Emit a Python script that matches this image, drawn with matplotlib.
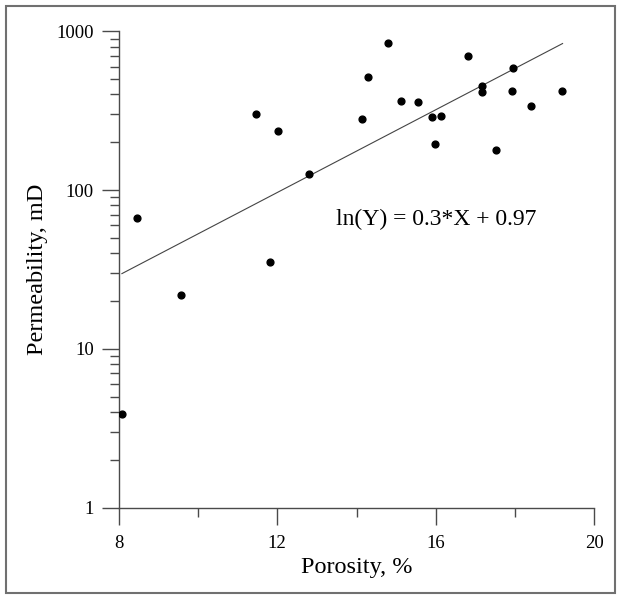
import numpy as np
import matplotlib.pyplot as plt
from matplotlib.ticker import FixedLocator, LogLocator, NullFormatter
from matplotlib.patches import Rectangle

plt.rcParams['font.family'] = ['Liberation Serif', 'DejaVu Serif']

# porosity (%) and permeability (mD)
porosity = [8.08, 8.47, 9.57, 11.47, 11.81, 12.02, 12.79, 14.15, 14.29, 14.80,
            15.13, 15.55, 15.91, 15.97, 16.13, 16.82, 17.16, 17.16, 17.53,
            17.93, 17.95, 18.40, 19.19]
permeability = [3.9, 67, 22, 301, 35, 237, 126, 280, 513, 848,
                365, 360, 290, 195, 294, 699, 452, 413, 180,
                423, 585, 340, 423]

# fit ln(Y) = a*X + b
fit_a = 0.3
fit_b = 0.97
fit_x = [8.08, 19.2]

grey = '#4a4a4a'

fig = plt.figure(figsize=(6.2, 5.98), dpi=100)
ax = fig.add_axes([0.1915, 0.151, 0.767, 0.7967])

xx = np.linspace(fit_x[0], fit_x[1], 50)
ax.plot(xx, np.exp(fit_a * xx + fit_b), color='#444444', lw=0.8)
ax.scatter(porosity, permeability, s=24, color='black', zorder=3)

ax.set_yscale('log')
ax.set_xlim(8, 20)
ax.set_ylim(1, 1000)

ax.xaxis.set_major_locator(FixedLocator([8, 12, 16, 20]))
ax.xaxis.set_minor_locator(FixedLocator([10, 14, 18]))
ax.yaxis.set_major_locator(FixedLocator([1, 10, 100, 1000]))
ax.yaxis.set_minor_locator(LogLocator(base=10, subs=np.arange(2, 10)))
ax.yaxis.set_minor_formatter(NullFormatter())
ax.set_yticklabels(['1', '10', '100', '1000'])
ax.set_xticklabels(['8', '12', '16', '20'])

for s in ['top', 'right']:
    ax.spines[s].set_visible(False)
for s in ['left', 'bottom']:
    ax.spines[s].set_color(grey)
    ax.spines[s].set_linewidth(1.0)

ax.tick_params(which='major', direction='out', length=12, width=1.0,
               color=grey, labelsize=13.5)
ax.tick_params(axis='x', which='major', pad=8)
ax.tick_params(axis='y', which='major', pad=6)
ax.tick_params(which='minor', direction='out', length=6.5, width=1.0,
               color=grey)

ax.set_xlabel('Porosity, %', fontsize=17.5, labelpad=3)
ax.set_ylabel('Permeability, mD', fontsize=17.5, labelpad=6)

ax.text(13.48, 65, 'ln(Y) = 0.3*X + 0.97', fontsize=17, ha='left', va='center')

fig.patches.append(Rectangle((5.5 / 620, 5.5 / 598), 609 / 620, 587 / 598,
                             transform=fig.transFigure, fill=False,
                             edgecolor='#707070', lw=1.5))

fig.savefig('out.png', dpi=100)
